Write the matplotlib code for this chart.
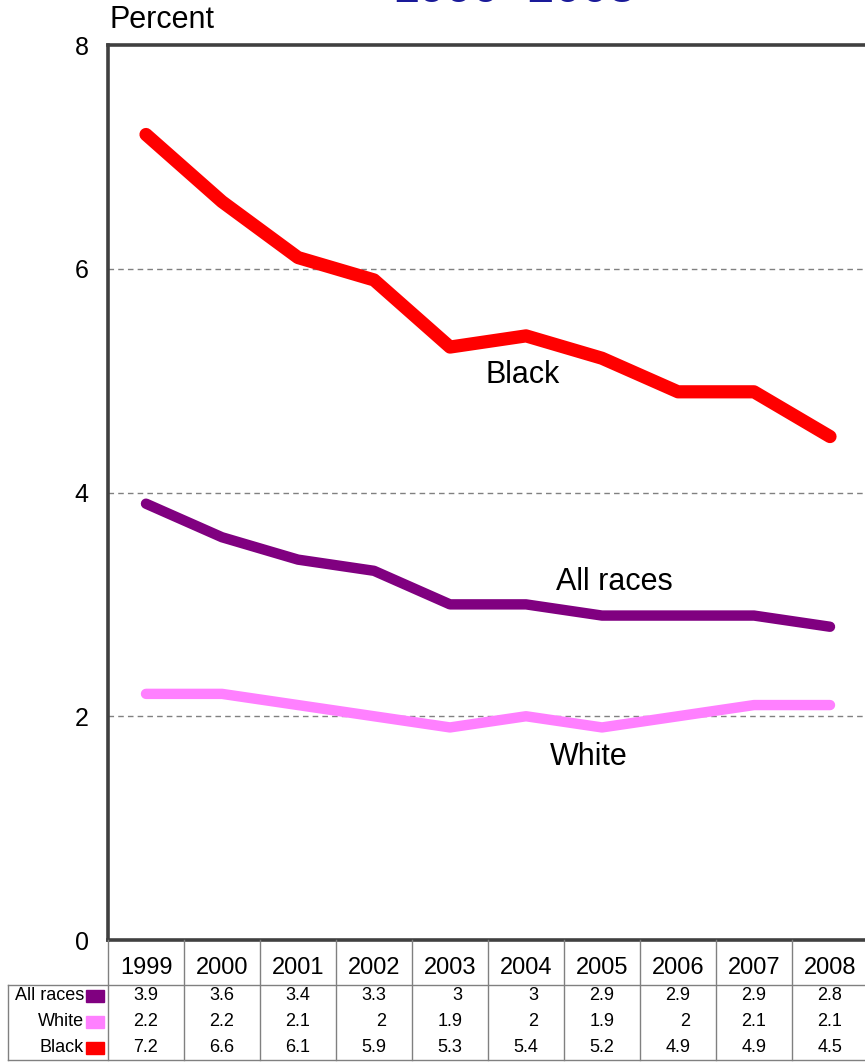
import numpy as np
import matplotlib.pyplot as plt
from matplotlib.transforms import Bbox, TransformedBbox

plt.rcParams['font.family'] = ['Liberation Sans', 'DejaVu Sans']

years = ['1999', '2000', '2001', '2002', '2003', '2004', '2005', '2006', '2007', '2008']
all_races = [3.9, 3.6, 3.4, 3.3, 3, 3, 2.9, 2.9, 2.9, 2.8]
white = [2.2, 2.2, 2.1, 2, 1.9, 2, 1.9, 2, 2.1, 2.1]
black = [7.2, 6.6, 6.1, 5.9, 5.3, 5.4, 5.2, 4.9, 4.9, 4.5]
series_names = ['All races', 'White', 'Black']
series_colors = ['#800080', '#ff80ff', '#ff0000']

W, H = 865, 1064
fig = plt.figure(figsize=(W / 100, H / 100), dpi=100)

# main plot area (right spine falls just outside the picture)
left, right, top, bottom = 108, 868, 45, 940
ax = fig.add_axes([left / W, 1 - bottom / H, (right - left) / W, (bottom - top) / H])
x = np.arange(len(years))
ax.set_xlim(-0.5, len(years) - 0.5)
ax.set_ylim(0, 8)

for yv in [2, 4, 6]:
    ax.axhline(yv, color='#808080', lw=1, ls=(0, (4, 3)), zorder=1)

ax.plot(x, black, color=series_colors[2], lw=9.5, solid_capstyle='round', solid_joinstyle='round', zorder=3)
ax.plot(x, all_races, color=series_colors[0], lw=7.5, solid_capstyle='round', solid_joinstyle='round', zorder=3)
ax.plot(x, white, color=series_colors[1], lw=7.5, solid_capstyle='round', solid_joinstyle='round', zorder=3)

ax.text(4.95, 5.05, 'Black', fontsize=22, ha='center', va='center')
ax.text(6.16, 3.2, 'All races', fontsize=22, ha='center', va='center')
ax.text(5.82, 1.64, 'White', fontsize=22, ha='center', va='center')

ax.set_yticks([0, 2, 4, 6, 8])
ax.set_xticks([])
ax.tick_params(axis='y', length=0, pad=14, labelsize=18)
for s in ['left', 'top', 'bottom']:
    ax.spines[s].set_color('#404040')
    ax.spines[s].set_linewidth(2.6)
ax.spines['right'].set_visible(False)

fig.text(110 / W, 1 - 20 / H, 'Percent', fontsize=22, ha='left', va='center')
# title is cut off by the top edge, only a thin strip of it shows
title = fig.text(514 / W, 1 - 1.5 / H, '1999\u20132008', fontsize=35, color='#1a1a99',
                 ha='center', va='baseline')
title.set_clip_box(TransformedBbox(Bbox([[0, 1 - 3 / H], [1, 1]]), fig.transFigure))
title.set_clip_on(True)

# data table under the plot
tb_top, tb_bot = 940, 1060
tax = fig.add_axes([left / W, 1 - tb_bot / H, (right - left) / W, (tb_bot - tb_top) / H])
tax.set_xlim(-0.5, len(years) - 0.5)
tax.set_ylim(tb_bot - tb_top, 0)  # pixel rows, downward
tax.axis('off')

lab_left = -0.5 - (left - 8) / 76
grid_kw = dict(color='#808080', lw=1, clip_on=False)
for i in range(len(years) + 1):
    tax.plot([i - 0.5, i - 0.5], [0, 120], **grid_kw)
tax.plot([lab_left, lab_left], [45, 120], **grid_kw)
tax.plot([lab_left, len(years) - 0.5], [45, 45], **grid_kw)
tax.plot([lab_left, len(years) - 0.5], [120, 120], **grid_kw)

for i, yr in enumerate(years):
    tax.text(i, 28, yr, fontsize=17, ha='center', va='center')

rows = [all_races, white, black]
row_y = [56, 82, 108]
for name, vals, color, ry in zip(series_names, rows, series_colors, row_y):
    tax.text(-0.5 - 24 / 76, ry, name, fontsize=13, ha='right', va='center', clip_on=False)
    tax.add_patch(plt.Rectangle((-0.5 - 22 / 76, ry - 6), 18 / 76, 12, color=color, clip_on=False))
    for i, v in enumerate(vals):
        tax.text(i + 0.16, ry, f'{v:g}', fontsize=13, ha='right', va='center')

fig.savefig('out.png', dpi=100)
